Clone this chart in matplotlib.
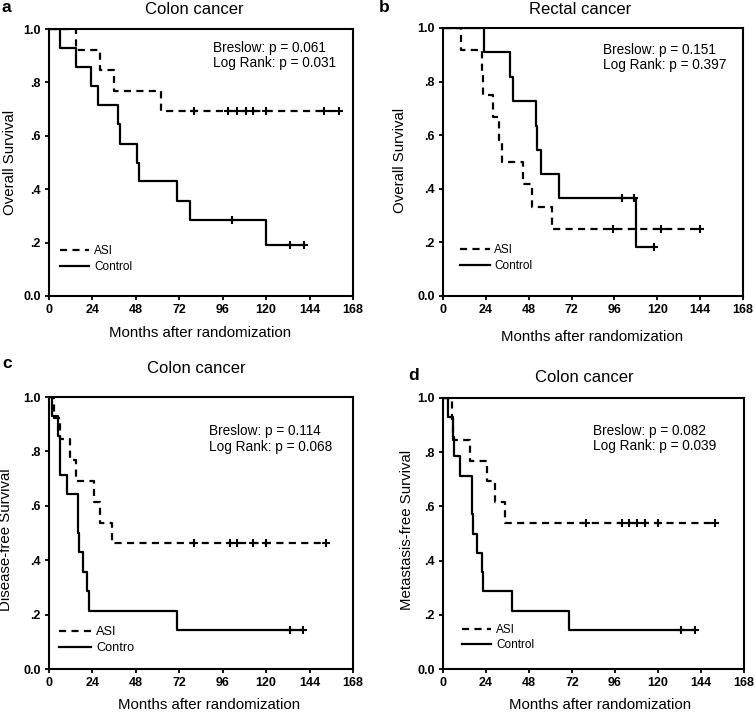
import numpy as np
import matplotlib.pyplot as plt

plt.rcParams['font.family'] = ['Liberation Sans', 'DejaVu Sans']

# ---- data (months, survival) ----
# a: colon cancer, overall survival
a_asi_t = [15, 28, 36, 62]
a_asi_s = [0.923, 0.846, 0.769, 0.692]
a_asi_c = [80, 99, 104, 109, 113, 120, 152, 160]
a_ctl_t = [6, 15, 23, 27, 38, 39, 48.5, 50, 71, 78, 120]
a_ctl_s = [0.929, 0.857, 0.786, 0.714, 0.643, 0.571, 0.5, 0.429, 0.357, 0.286, 0.19]
a_ctl_c = [101, 133, 141]

# b: rectal cancer, overall survival
b_asi_t = [10, 22, 22.6, 28, 31.5, 33, 44.6, 50, 61]
b_asi_s = [0.917, 0.833, 0.75, 0.667, 0.583, 0.5, 0.417, 0.333, 0.25]
b_asi_c = [95, 122, 144]
b_ctl_t = [23, 37.5, 39, 52, 52.5, 55, 65, 108]
b_ctl_s = [0.909, 0.818, 0.727, 0.636, 0.545, 0.455, 0.364, 0.182]
b_ctl_c = [100, 107, 118]

# c: colon cancer, disease-free survival
c_asi_t = [3, 6, 11.6, 14.7, 25, 28.2, 34.6]
c_asi_s = [0.923, 0.846, 0.769, 0.692, 0.615, 0.538, 0.462]
c_asi_c = [80, 100, 104, 113, 120, 153]
c_ctl_t = [1.8, 5.2, 6, 6.3, 9.8, 16, 16.3, 16.6, 18.6, 21.2, 22, 70.5]
c_ctl_s = [0.929, 0.857, 0.786, 0.714, 0.643, 0.571, 0.5, 0.429, 0.357, 0.286, 0.214, 0.143]
c_ctl_c = [133, 140.5]

# d: colon cancer, metastasis-free survival
d_asi_t = [5, 5.5, 15, 24.7, 28.8, 34.4]
d_asi_s = [0.923, 0.846, 0.769, 0.692, 0.615, 0.538]
d_asi_c = [80, 100, 104, 108, 113, 120, 152]
d_ctl_t = [2.8, 5.6, 5.9, 9.3, 16, 16.3, 16.6, 19.1, 22, 22.3, 38.5, 70.3]
d_ctl_s = [0.929, 0.857, 0.786, 0.714, 0.643, 0.571, 0.5, 0.429, 0.357, 0.286, 0.214, 0.143]
d_ctl_c = [132.6, 140.6]

x_ticks = [0, 24, 48, 72, 96, 120, 144, 168]
y_ticks = [0.0, 0.2, 0.4, 0.6, 0.8, 1.0]
y_ticklabels = ['0.0', '.2', '.4', '.6', '.8', '1.0']

W, H = 755, 712
fig = plt.figure(figsize=(W / 100, H / 100), dpi=100)


def rect(l, t, r, b):
    return [l / W, 1 - b / H, (r - l) / W, (b - t) / H]


def ftext(x, y, s, **kw):
    fig.text(x / W, 1 - y / H, s, ha='center', va='center', **kw)


def km(ax, t, s, cens, ls, label):
    end = max(cens)
    tt = [0] + t + [end]
    ss = [1.0] + s + [s[-1]]
    ax.step(tt, ss, where='post', color='black', lw=1.6, ls=ls, label=label)
    sv = np.array([1.0] + s)
    cy = sv[np.searchsorted(t, cens, side='right')]
    ax.plot(cens, cy, ls='none', marker='+', ms=6, mew=1.5, color='black')


panels = [
    dict(r=(49, 29, 353, 296), letter='a', lp=(6, 7), title='Colon cancer', tp=(194, 10),
         ylab='Overall Survival', yp=(10, 162), xp=(200, 333),
         asi=(a_asi_t, a_asi_s, a_asi_c), ctl=(a_ctl_t, a_ctl_s, a_ctl_c),
         stats='Breslow: p = 0.061\nLog Rank: p = 0.031', sp=(0.54, 0.955),
         ctl_label='Control', lg=(0.036, 0.086), lfs=8.5),
    dict(r=(443, 28, 743, 296), letter='b', lp=(384, 7), title='Rectal cancer', tp=(580, 9),
         ylab='Overall Survival', yp=(400, 160), xp=(592, 337),
         asi=(b_asi_t, b_asi_s, b_asi_c), ctl=(b_ctl_t, b_ctl_s, b_ctl_c),
         stats='Breslow: p = 0.151\nLog Rank: p = 0.397', sp=(0.532, 0.944),
         ctl_label='Control', lg=(0.057, 0.09), lfs=8.5),
    dict(r=(49, 397, 353, 669), letter='c', lp=(7, 363), title='Colon cancer', tp=(196, 368),
         ylab='Disease-free Survival', yp=(6, 540), xp=(209, 705),
         asi=(c_asi_t, c_asi_s, c_asi_c), ctl=(c_ctl_t, c_ctl_s, c_ctl_c),
         stats='Breslow: p = 0.114\nLog Rank: p = 0.068', sp=(0.527, 0.90),
         ctl_label='Contro', lg=(0.033, 0.055), lfs=9.2),
    dict(r=(443, 398, 744, 669), letter='d', lp=(414, 376), title='Colon cancer', tp=(584, 377),
         ylab='Metastasis-free Survival', yp=(407, 530), xp=(600, 705),
         asi=(d_asi_t, d_asi_s, d_asi_c), ctl=(d_ctl_t, d_ctl_s, d_ctl_c),
         stats='Breslow: p = 0.082\nLog Rank: p = 0.039', sp=(0.498, 0.904),
         ctl_label='Control', lg=(0.063, 0.065), lfs=8.5),
]

for p in panels:
    ax = fig.add_axes(rect(*p['r']))
    km(ax, *p['asi'], ls=(0, (3.2, 2.4)), label='ASI')
    km(ax, *p['ctl'], ls='-', label=p['ctl_label'])
    ax.set_xlim(0, 168)
    ax.set_ylim(0, 1.0)
    ax.set_xticks(x_ticks)
    ax.set_yticks(y_ticks)
    ax.set_yticklabels(y_ticklabels)
    ax.tick_params(direction='out', length=3, width=1.3, labelsize=9, pad=3)
    for lab in ax.get_xticklabels() + ax.get_yticklabels():
        lab.set_fontweight('bold')
    for sp in ax.spines.values():
        sp.set_linewidth(1.5)
    ax.text(p['sp'][0], p['sp'][1], p['stats'], transform=ax.transAxes,
            ha='left', va='top', fontsize=9.8, linespacing=1.12)
    ax.legend(loc='lower left', bbox_to_anchor=p['lg'], frameon=False,
              fontsize=p['lfs'], handlelength=2.5, handletextpad=0.4,
              labelspacing=0.3, borderpad=0, borderaxespad=0)
    ftext(*p['lp'], p['letter'], fontsize=12.5, fontweight='bold')
    ftext(*p['tp'], p['title'], fontsize=12)
    ftext(*p['yp'], p['ylab'], fontsize=10.8, rotation=90)
    ftext(*p['xp'], 'Months after randomization', fontsize=10.8)

fig.savefig('out.png', dpi=100)
